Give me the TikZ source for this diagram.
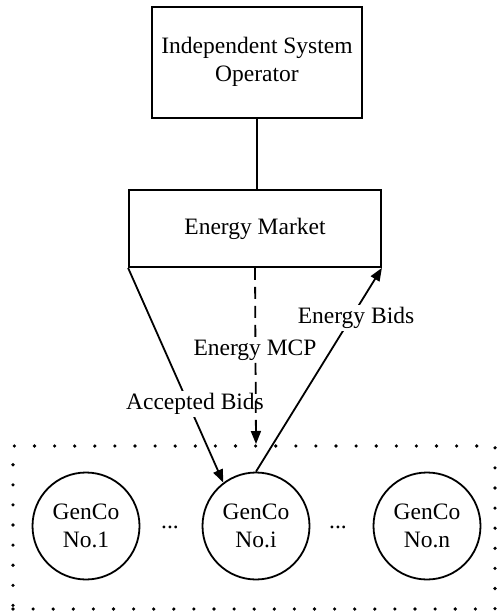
\documentclass[tikz,border=0pt]{standalone}
\usepackage{fontspec}
\setmainfont{Liberation Serif}
\usetikzlibrary{arrows.meta}
\begin{document}
\begin{tikzpicture}[x=1pt,y=-1pt,
  every node/.style={font=\fontsize{23.5}{28.5}\selectfont, inner sep=0pt},
  box/.style={draw, line width=1.8pt, align=center},
  genco/.style={draw, circle, line width=1.8pt, minimum size=107pt, align=center},
  conn/.style={line width=1.8pt},
  arr/.style={conn, -{Triangle[length=13pt,width=10pt]}},
  lbl/.style={fill=white, inner sep=2pt},
  group/.style={draw, line width=3.6pt, line cap=round, dash pattern=on 0pt off 20.1pt}
]
\useasboundingbox (0,0) rectangle (496,612);
\node[box, minimum width=210pt, minimum height=111pt, text depth=6pt] (iso) at (257,62.5) {Independent System\\Operator};
\node[box, minimum width=252pt, minimum height=77pt] (em) at (255,228.5) {Energy Market};
\node[group, minimum width=482pt, minimum height=163pt] (grp) at (254,527.5) {};
\node[genco] (g1) at (86,526) {GenCo\\No.1};
\node[genco] (gi) at (256,526) {GenCo\\No.i};
\node[genco] (gn) at (427,526) {GenCo\\No.n};
\node (d1) at (170,527) {...};
\node (d2) at (338,527) {...};
\coordinate (mcpend) at (256,444);
\draw[conn] (iso.south) -- (iso.south |- em.north);
\draw[arr] (em.south west) -- (gi.127);
\draw[arr] (gi.north) -- (em.south east);
\node[lbl] (acc) at (195,404) {Accepted Bids};
\draw[arr, dash pattern=on 12pt off 7pt] (em.south) -- (mcpend);
\node[lbl] (mcp) at (255,350) {Energy MCP};
\node[lbl] (bids) at (356,318) {Energy Bids};
\end{tikzpicture}
\end{document}
